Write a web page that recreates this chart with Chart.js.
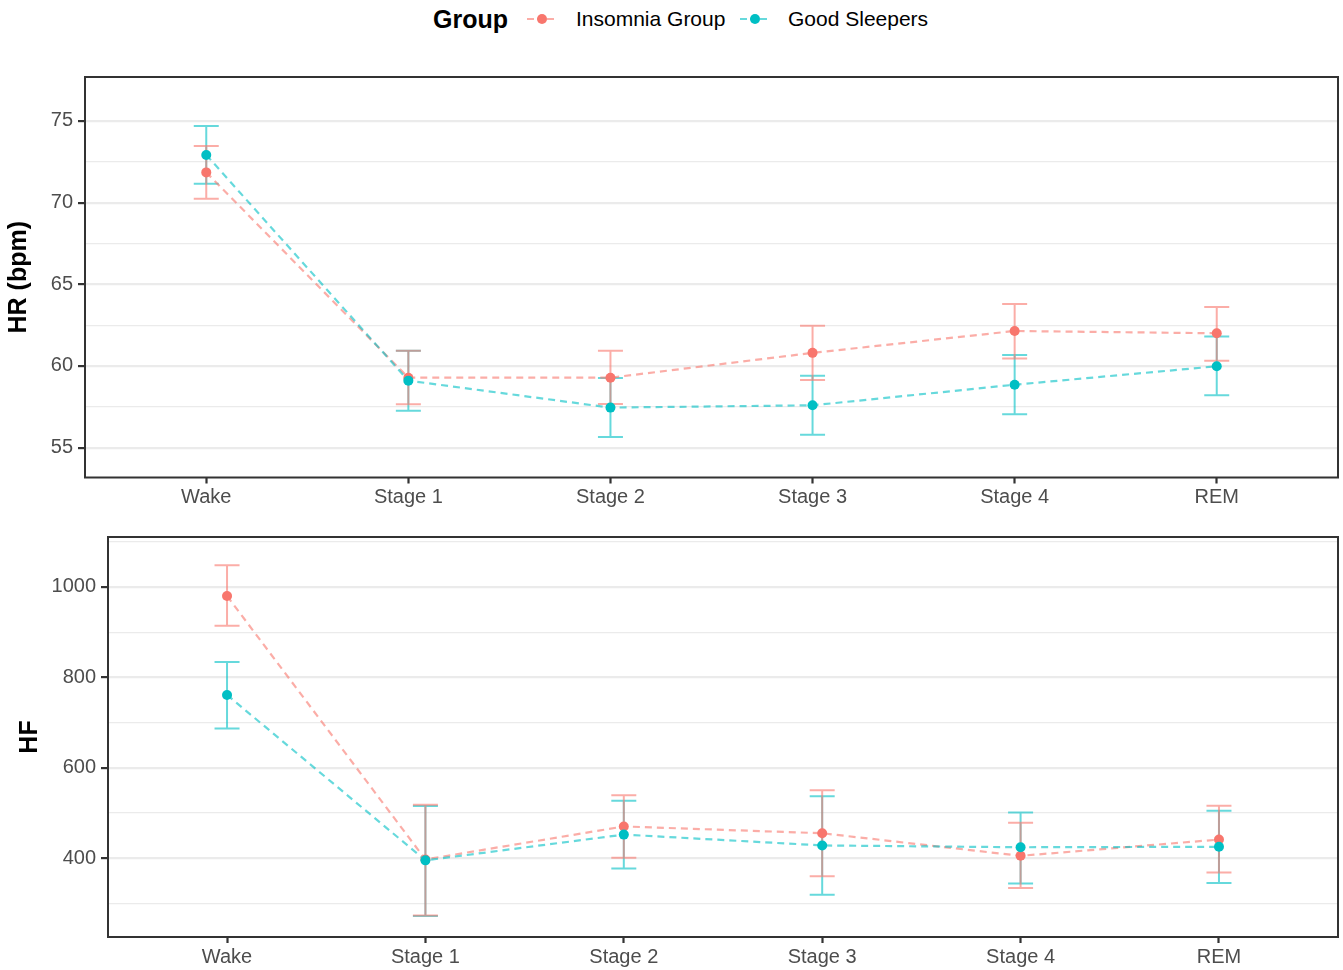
<!DOCTYPE html>
<html>
<head>
<meta charset="utf-8">
<script src="https://cdn.jsdelivr.net/npm/chart.js@4.4.1/dist/chart.umd.min.js"></script>
<style>
  html, body { margin: 0; padding: 0; background: #fff; }
  body { width: 1343px; height: 970px; position: relative; overflow: hidden;
         font-family: 'Liberation Sans', Arial, sans-serif; }
  .lg { position: absolute; top: 0; height: 38px; line-height: 38px; white-space: nowrap; font-size: 21px; color: #000; }
  canvas { position: absolute; left: 0; }
</style>
</head>
<body>
<div class="lg" style="left:433px;font-weight:bold;font-size:25px;">Group</div>
<svg style="position:absolute;left:524px;top:9px" width="36" height="20">
  <line x1="3" y1="10" x2="33" y2="10" stroke="rgba(248,118,109,0.6)" stroke-width="2.2" stroke-dasharray="7 3"/>
  <circle cx="18" cy="10" r="5" fill="#F8766D"/>
</svg>
<div class="lg" style="left:576px;">Insomnia Group</div>
<svg style="position:absolute;left:737px;top:9px" width="36" height="20">
  <line x1="3" y1="10" x2="33" y2="10" stroke="rgba(0,191,196,0.6)" stroke-width="2.2" stroke-dasharray="7 3"/>
  <circle cx="18" cy="10" r="5" fill="#00BFC4"/>
</svg>
<div class="lg" style="left:788px;">Good Sleepers</div>

<canvas id="hrChart" width="1343" height="470" style="top:50px"></canvas>
<canvas id="hfChart" width="1343" height="450" style="top:520px"></canvas>

<script>
  const FONT = "'Liberation Sans', Arial, sans-serif";

  const STAGES = ['Wake', 'Stage 1', 'Stage 2', 'Stage 3', 'Stage 4', 'REM'];

  // ===== HR (bpm) =====
  const HR_INSOMNIA      = [71.85, 59.28, 59.28, 60.80, 62.14, 62.00];
  const HR_INSOMNIA_LOW  = [70.23, 57.65, 57.67, 59.14, 60.46, 60.32];
  const HR_INSOMNIA_HIGH = [73.47, 60.93, 60.93, 62.46, 63.79, 63.61];
  const HR_GOOD          = [72.92, 59.10, 57.45, 57.59, 58.85, 59.98];
  const HR_GOOD_LOW      = [71.15, 57.26, 55.65, 55.78, 57.04, 58.20];
  const HR_GOOD_HIGH     = [74.69, 60.93, 59.26, 59.40, 60.67, 61.81];
  const HR_MAJOR_TICKS = [55, 60, 65, 70, 75];
  const HR_MINOR_TICKS = [57.5, 62.5, 67.5, 72.5];

  // ===== HF =====
  const HF_INSOMNIA      = [980, 397, 470, 455, 405, 441];
  const HF_INSOMNIA_LOW  = [914, 273, 401, 360, 334, 368];
  const HF_INSOMNIA_HIGH = [1048, 518, 539, 550, 478, 516];
  const HF_GOOD          = [761, 395, 452, 428, 424, 425];
  const HF_GOOD_LOW      = [687, 272, 377, 319, 344, 345];
  const HF_GOOD_HIGH     = [834, 515, 527, 537, 501, 505];
  const HF_MAJOR_TICKS = [400, 600, 800, 1000];
  const HF_MINOR_TICKS = [300, 500, 700, 900, 1100];

  const PINK = '#F8766D', PINK_FADE = 'rgba(248,118,109,0.6)';
  const CYAN = '#00BFC4', CYAN_FADE = 'rgba(0,191,196,0.6)';

  function toPoints(values) {
    return values.map((v, i) => ({ x: i, y: v }));
  }

  function makePanel(canvasId, p) {
    const allTicks = p.major.concat(p.minor).sort((a, b) => a - b);
    const isMajor = (v) => p.major.includes(v);

    // ggplot-style error bars, drawn under the lines and points
    const errorBars = {
      id: 'errorBars',
      beforeDatasetsDraw(chart) {
        const ctx = chart.ctx;
        const xs = chart.scales.x, ys = chart.scales.y;
        ctx.save();
        ctx.lineWidth = 2;
        p.bars.forEach((b) => {
          ctx.strokeStyle = b.color;
          b.low.forEach((lo, i) => {
            const px = xs.getPixelForValue(i);
            const yl = ys.getPixelForValue(lo);
            const yh = ys.getPixelForValue(b.high[i]);
            ctx.beginPath();
            ctx.moveTo(px, yl); ctx.lineTo(px, yh);
            ctx.moveTo(px - 12.5, yl); ctx.lineTo(px + 12.5, yl);
            ctx.moveTo(px - 12.5, yh); ctx.lineTo(px + 12.5, yh);
            ctx.stroke();
          });
        });
        ctx.restore();
      },
    };

    const panelBorder = {
      id: 'panelBorder',
      afterDraw(chart) {
        const a = chart.chartArea;
        const ctx = chart.ctx;
        ctx.save();
        ctx.strokeStyle = '#333333';
        ctx.lineWidth = 2;
        ctx.strokeRect(a.left, a.top, a.right - a.left, a.bottom - a.top);
        ctx.restore();
      },
    };

    const lineSet = (data, color) => ({
      data: toPoints(data),
      borderColor: color,
      borderWidth: 2.2,
      borderDash: [7, 5],
      pointRadius: 0,
      fill: false,
      tension: 0,
    });
    const pointSet = (data, color) => ({
      data: toPoints(data),
      showLine: false,
      pointRadius: 5,
      pointBackgroundColor: color,
      pointBorderWidth: 0,
    });

    return new Chart(document.getElementById(canvasId), {
      type: 'line',
      data: {
        datasets: [
          Object.assign(pointSet(p.good, CYAN), { order: 0 }),
          Object.assign(pointSet(p.insomnia, PINK), { order: 1 }),
          Object.assign(lineSet(p.good, CYAN_FADE), { order: 2 }),
          Object.assign(lineSet(p.insomnia, PINK_FADE), { order: 3 }),
        ],
      },
      options: {
        responsive: false,
        animation: false,
        layout: { padding: { left: 0, right: 4.5, top: p.padTop, bottom: 0 } },
        plugins: { legend: { display: false }, tooltip: { enabled: false } },
        scales: {
          x: {
            type: 'linear',
            min: -0.6,
            max: 5.6,
            afterBuildTicks: (s) => { s.ticks = STAGES.map((_, i) => ({ value: i })); },
            afterFit: (s) => { s.height = p.xHeight; },
            ticks: {
              callback: (v) => STAGES[v],
              color: '#4D4D4D',
              font: { family: FONT, size: 20 },
              padding: 2,
              maxRotation: 0,
              autoSkip: false,
            },
            grid: { drawOnChartArea: false, drawTicks: true, tickLength: 6, tickWidth: 2.2, tickColor: '#333333' },
            border: { display: false },
          },
          y: {
            min: p.yMin,
            max: p.yMax,
            afterBuildTicks: (s) => { s.ticks = allTicks.map((v) => ({ value: v })); },
            afterFit: (s) => { s.width = p.axisWidth; },
            ticks: {
              callback: (v) => (isMajor(v) ? String(v) : ''),
              color: '#4D4D4D',
              font: { family: FONT, size: 20 },
              padding: 5,
            },
            grid: {
              color: '#EBEBEB',
              lineWidth: (c) => (c.tick && isMajor(c.tick.value) ? 2.2 : 1.2),
              tickColor: (c) => (c.tick && isMajor(c.tick.value) ? '#333333' : 'rgba(0,0,0,0)'),
              tickLength: 7,
              tickWidth: 2.2,
            },
            border: { display: false },
            title: {
              display: true,
              text: p.title,
              color: '#000',
              font: { family: FONT, size: 25, weight: 'bold' },
              padding: { top: p.titlePad, bottom: 0 },
            },
          },
        },
      },
      plugins: [errorBars, panelBorder],
    });
  }

  makePanel('hrChart', {
    title: 'HR (bpm)',
    insomnia: HR_INSOMNIA,
    good: HR_GOOD,
    bars: [
      { low: HR_GOOD_LOW, high: HR_GOOD_HIGH, color: CYAN_FADE },
      { low: HR_INSOMNIA_LOW, high: HR_INSOMNIA_HIGH, color: PINK_FADE },
    ],
    yMin: 53.17,
    yMax: 77.69,
    major: HR_MAJOR_TICKS,
    minor: HR_MINOR_TICKS,
    axisWidth: 85,
    padTop: 27,
    xHeight: 42.5,
    titlePad: 4.5,
  });

  makePanel('hfChart', {
    title: 'HF',
    insomnia: HF_INSOMNIA,
    good: HF_GOOD,
    bars: [
      { low: HF_GOOD_LOW, high: HF_GOOD_HIGH, color: CYAN_FADE },
      { low: HF_INSOMNIA_LOW, high: HF_INSOMNIA_HIGH, color: PINK_FADE },
    ],
    yMin: 225.4,
    yMax: 1110.5,
    major: HF_MAJOR_TICKS,
    minor: HF_MINOR_TICKS,
    axisWidth: 108,
    padTop: 17,
    xHeight: 33,
    titlePad: 15,
  });
</script>
</body>
</html>
